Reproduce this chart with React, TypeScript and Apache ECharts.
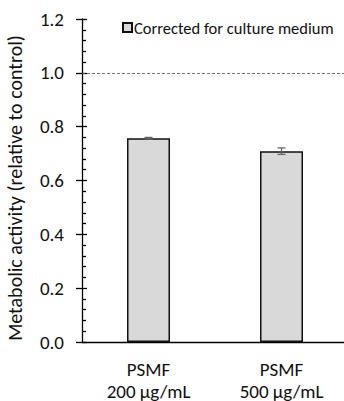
import React, { useEffect, useRef } from "react";
import * as echarts from "echarts";

const categories = ["PSMF\n200 µg/mL", "PSMF\n500 µg/mL"];
const values = [0.757, 0.709];
const errors = [0.003, 0.012];
const seriesName = "Corrected for culture medium";
const yTicks = { min: 0, max: 1.2, interval: 0.2 };
const referenceLine = 1.0;

const FONT = "Carlito, 'Open Sans', sans-serif";

export default function App() {
  const ref = useRef<HTMLDivElement>(null);
  useEffect(() => {
    if (!ref.current) return;
    const chart = echarts.init(ref.current, undefined, { renderer: "svg" });
    const grid = { left: 82, top: 19, right: -4, bottom: 59, outerBoundsMode: "none", containLabel: false };
    chart.setOption({
      animation: false,
      textStyle: { fontFamily: FONT, color: "#111" },
      grid,
      legend: {
        left: 117,
        top: 14,
        itemWidth: 9,
        itemHeight: 9,
        itemGap: 4,
        textStyle: { fontFamily: FONT, fontSize: 16.5, color: "#111", padding: [0, 0, 0, -3] },
        data: [{ name: seriesName, icon: "rect" }],
      },
      xAxis: {
        type: "category",
        data: categories,
        axisLine: { lineStyle: { color: "#000", width: 1.3 } },
        axisTick: { show: false },
        axisLabel: {
          interval: 0,
          hideOverlap: false,
          fontFamily: FONT,
          fontSize: 19,
          color: "#111",
          margin: 15,
          formatter: (v: string) => {
            const [a, b] = v.split("\n");
            return `{a|${a}}\n{b|${b}}`;
          },
          rich: {
            a: { fontFamily: FONT, fontSize: 19, color: "#111", lineHeight: 24 },
            b: { fontFamily: FONT, fontSize: 19, color: "#111", lineHeight: 20 },
          },
        },
      },
      yAxis: [
        {
          type: "value",
          min: yTicks.min,
          max: yTicks.max,
          interval: yTicks.interval,
          axisLine: { show: true, lineStyle: { color: "#000", width: 1.3 } },
          axisTick: { show: true, length: 6, lineStyle: { color: "#000", width: 1.3 } },
          axisLabel: {
            fontFamily: FONT,
            fontSize: 19,
            color: "#111",
            margin: 18,
            formatter: (v: number) => v.toFixed(1),
          },
          splitLine: { show: false },
        },
        {
          type: "value",
          position: "left",
          min: yTicks.min,
          max: yTicks.max,
          interval: yTicks.interval,
          axisLine: { show: false },
          axisTick: { show: true, inside: true, length: 5, lineStyle: { color: "#000", width: 1.3 } },
          minorTick: { show: true, splitNumber: 5, length: 4, lineStyle: { color: "#000", width: 1.3 } },
          axisLabel: { show: false },
          splitLine: { show: false },
        },
      ],
      series: [
        {
          name: seriesName,
          type: "bar",
          data: values,
          barWidth: 43,
          itemStyle: { color: "#d9d9d9", borderColor: "#111", borderWidth: 1.5 },
          markLine: {
            silent: true,
            symbol: "none",
            label: { show: false },
            lineStyle: { color: "#555", type: [3, 2], width: 0.8 },
            data: [{ yAxis: referenceLine }],
          },
          z: 2,
        },
        {
          type: "custom",
          name: "error",
          data: values.map((v, i) => [i, v - errors[i], v + errors[i]]),
          renderItem: (params: any, api: any) => {
            const x = api.value(0);
            const lo = api.coord([x, api.value(1)]);
            const hi = api.coord([x, api.value(2)]);
            const w = 4;
            const style = { stroke: "#666", lineWidth: 1.3 };
            return {
              type: "group",
              children: [
                { type: "line", shape: { x1: lo[0], y1: lo[1], x2: hi[0], y2: hi[1] }, style },
                { type: "line", shape: { x1: lo[0] - w, y1: lo[1], x2: lo[0] + w, y2: lo[1] }, style },
                { type: "line", shape: { x1: hi[0] - w, y1: hi[1], x2: hi[0] + w, y2: hi[1] }, style },
              ],
            };
          },
          z: 3,
        },
      ],
      graphic: [
        {
          type: "text",
          x: 15,
          y: 188,
          rotation: Math.PI / 2,
          style: {
            text: "Metabolic activity (relative to control)",
            fontFamily: FONT,
            fontSize: 20,
            fill: "#111",
            align: "center",
            verticalAlign: "middle",
          },
        },
      ],
    });
    return () => chart.dispose();
  }, []);
  return <div ref={ref} style={{ width: 344, height: 401, position: "absolute", left: 0, top: 0 }} />;
}
